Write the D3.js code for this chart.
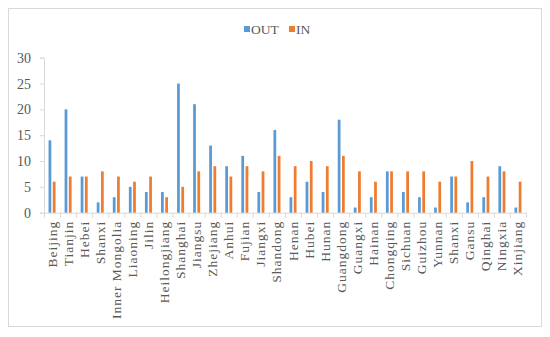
<!DOCTYPE html>
<html>
<head>
<meta charset="utf-8">
<script src="https://cdn.jsdelivr.net/npm/d3@7"></script>
<style>
  body { margin: 0; background: #fff; }
  svg text { font-family: "Liberation Serif", "Times New Roman", serif; fill: #595959; }
</style>
</head>
<body>
<div id="chart"></div>
<script>
let provinces = ['Beijing', 'Tianjin', 'Hebei', 'Shanxi', 'Inner Mongolia', 'Liaoning', 'Jilin', 'Heilongjiang',
  'Shanghai', 'Jiangsu', 'Zhejiang', 'Anhui', 'Fujian', 'Jiangxi', 'Shandong', 'Henan', 'Hubei', 'Hunan',
  'Guangdong', 'Guangxi', 'Hainan', 'Chongqing', 'Sichuan', 'Guizhou', 'Yunnan', 'Shanxi', 'Gansu',
  'Qinghai', 'Ningxia', 'Xinjiang']
let outValues = [14, 20, 7, 2, 3, 5, 4, 4, 25, 21, 13, 9, 11, 4, 16, 3, 6, 4, 18, 1, 3, 8, 4, 3, 1, 7, 2, 3, 9, 1]
let inValues = [6, 7, 7, 8, 7, 6, 7, 3, 5, 8, 9, 7, 9, 8, 11, 9, 10, 9, 11, 8, 6, 8, 8, 8, 6, 7, 10, 7, 8, 6]
let seriesNames = ['OUT', 'IN']
let yTicks = [0, 5, 10, 15, 20, 25, 30]

let width = 550
let height = 337
let colors = { OUT: '#5B9BD5', IN: '#ED7D31' }

let svg = d3.select('#chart').append('svg')
  .attr('width', width)
  .attr('height', height)

// chart frame
svg.append('rect')
  .attr('x', 8.5).attr('y', 8.5)
  .attr('width', 533).attr('height', 318)
  .attr('fill', '#fff')
  .attr('stroke', '#d9d9d9')

let plotLeft = 44, plotRight = 526, plotTop = 57.7, plotBottom = 212.7

// -- scales
let xScale = d3.scaleBand().domain(d3.range(provinces.length)).range([plotLeft, plotRight])
let x1 = d3.scaleBand().domain(seriesNames).range([0, 7]).paddingInner(0.35)
let yScale = d3.scaleLinear().domain([0, 30]).range([plotBottom, plotTop])

// -- y axis
let yAxis = d3.axisLeft(yScale).tickValues(yTicks).tickSize(4).tickPadding(9)
svg.append('g')
  .attr('transform', `translate(${plotLeft}, 0)`)
  .call(yAxis)
  .call(g => g.select('.domain').attr('stroke', '#d9d9d9'))
  .call(g => g.selectAll('.tick line').attr('stroke', '#d9d9d9'))
  .call(g => g.selectAll('.tick text').attr('font-size', 14).style('fill', '#595959'))

// -- x axis line and ticks at category boundaries
svg.append('line')
  .attr('x1', plotLeft).attr('x2', plotRight)
  .attr('y1', plotBottom + 0.5).attr('y2', plotBottom + 0.5)
  .attr('stroke', '#d9d9d9')
svg.append('g').selectAll('line')
  .data(d3.range(provinces.length + 1))
  .enter().append('line')
  .attr('x1', i => plotLeft + i * xScale.step() + 0.5)
  .attr('x2', i => plotLeft + i * xScale.step() + 0.5)
  .attr('y1', plotBottom)
  .attr('y2', plotBottom + 5)
  .attr('stroke', '#d9d9d9')

// -- x labels, rotated
svg.append('g').selectAll('text')
  .data(provinces)
  .enter().append('text')
  .attr('transform', (d, i) => `translate(${xScale(i) + xScale.bandwidth() / 2 + 4.5}, ${plotBottom + 8}) rotate(-90)`)
  .attr('text-anchor', 'end')
  .attr('font-size', 13.5)
  .attr('letter-spacing', 1)
  .text(d => d)

// -- bars
let groups = svg.append('g').selectAll('g')
  .data(provinces)
  .enter().append('g')
  .attr('transform', (d, i) => `translate(${xScale(i) + xScale.bandwidth() / 2 - 3.5}, 0)`)

groups.selectAll('rect')
  .data((d, i) => [{ key: 'OUT', value: outValues[i] }, { key: 'IN', value: inValues[i] }])
  .enter().append('rect')
  .attr('x', d => x1(d.key))
  .attr('width', x1.bandwidth())
  .attr('y', d => yScale(d.value))
  .attr('height', d => plotBottom - yScale(d.value))
  .attr('fill', d => colors[d.key])

// -- legend
let legend = svg.append('g').attr('transform', 'translate(244, 29)')
let legendX = [0, 45]
seriesNames.forEach((name, i) => {
  legend.append('rect')
    .attr('x', legendX[i]).attr('y', -3)
    .attr('width', 6).attr('height', 6)
    .attr('fill', colors[name])
  legend.append('text')
    .attr('x', legendX[i] + 7).attr('y', 5)
    .attr('font-size', 13.5)
    .text(name)
})
</script>
</body>
</html>
